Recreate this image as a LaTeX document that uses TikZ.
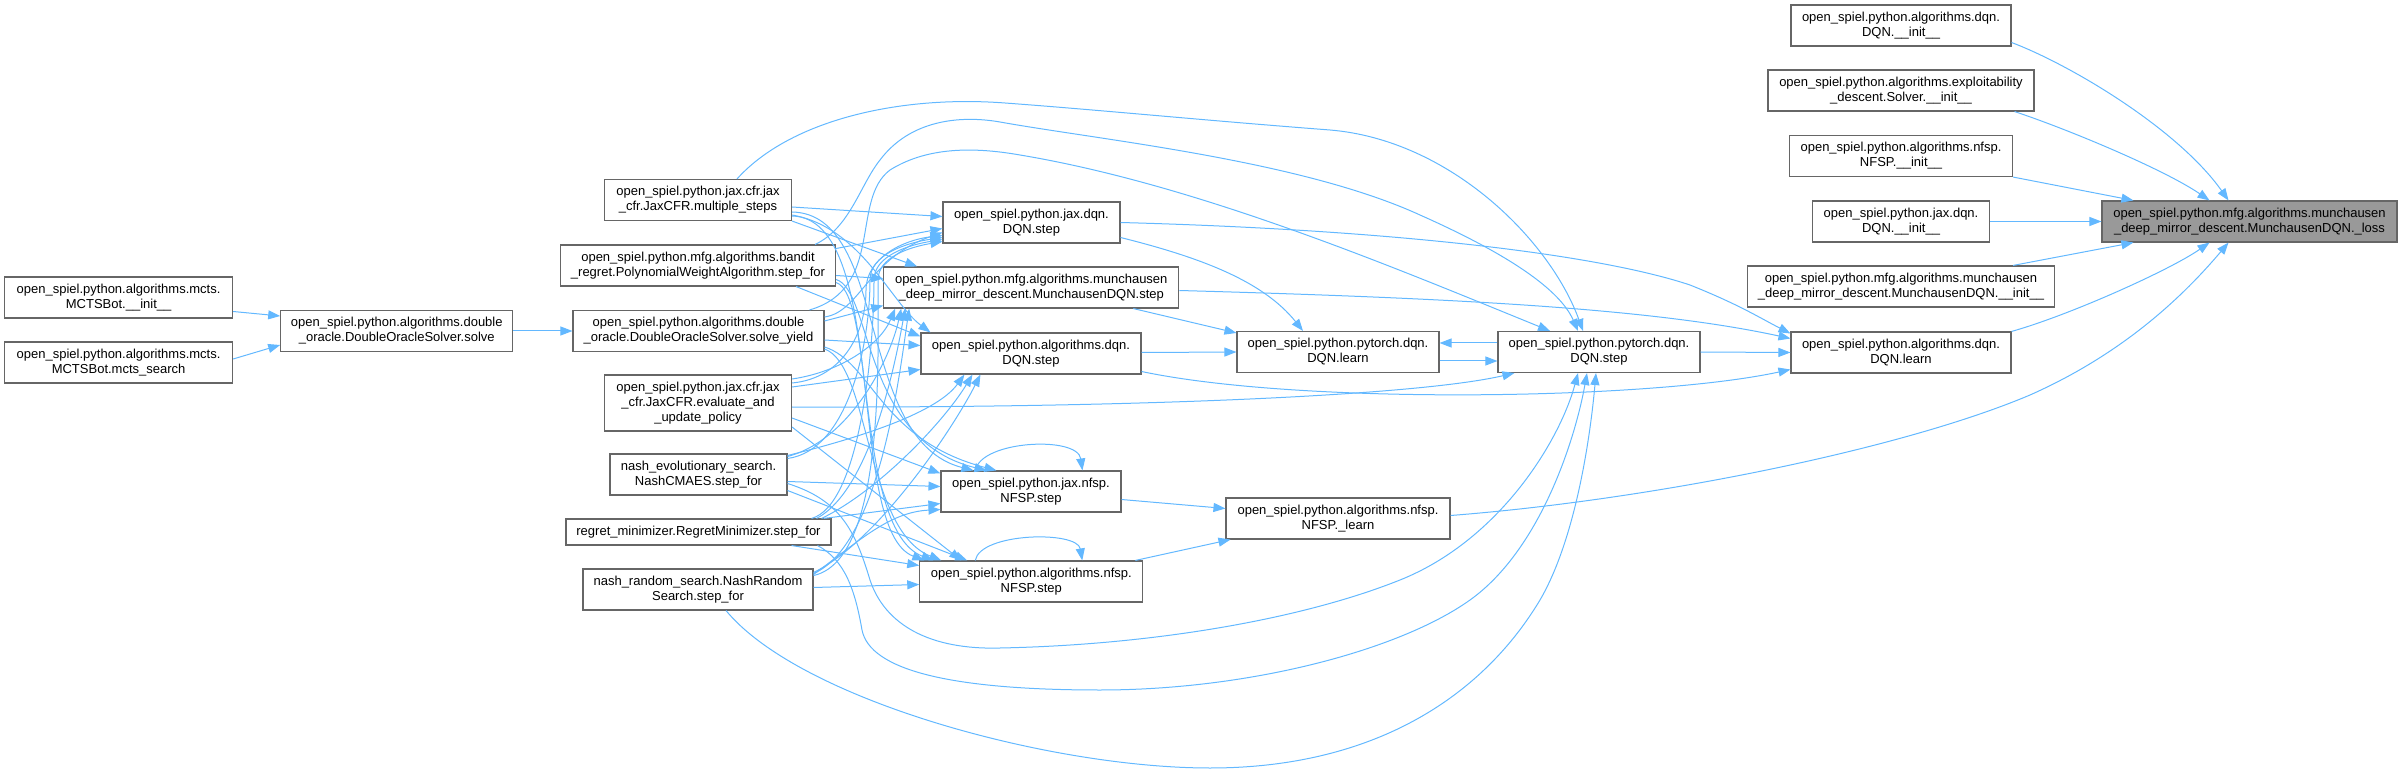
\documentclass[tikz,border=0pt]{standalone}
\usepackage{fontspec}
\setmainfont{Liberation Sans}
\usetikzlibrary{arrows.meta,calc}
\definecolor{edgeblue}{HTML}{63B8FF}
\definecolor{boxgray}{HTML}{666666}
\definecolor{lossfill}{HTML}{999999}
\begin{document}
\begin{tikzpicture}[x=1pt,y=-1pt,
  box/.style={draw=boxgray, line width=1.1pt, fill=white, inner sep=1pt, align=center,
    font=\fontsize{13}{15}\selectfont, minimum height=41pt},
  lossbox/.style={box, fill=lossfill},
  e/.style={draw=edgeblue, line width=1pt, -{Triangle[length=12pt,width=9pt]}}]
\useasboundingbox (0,0) rectangle (2402,775);

% ---- nodes ----
\node[box, minimum width=220pt] (dqninit) at (1901,25.5) {open\_spiel.python.algorithms.dqn.\\DQN.\_\_init\_\_};
\node[box, minimum width=266pt] (exploit) at (1901,90.5) {open\_spiel.python.algorithms.exploitability\\\_descent.Solver.\_\_init\_\_};
\node[box, minimum width=223pt] (nfspinit) at (1901,156) {open\_spiel.python.algorithms.nfsp.\\NFSP.\_\_init\_\_};
\node[box, minimum width=177pt] (jaxdqninit) at (1901,221.5) {open\_spiel.python.jax.dqn.\\DQN.\_\_init\_\_};
\node[box, minimum width=307pt] (munchinit) at (1901,286.5) {open\_spiel.python.mfg.algorithms.munchausen\\\_deep\_mirror\_descent.MunchausenDQN.\_\_init\_\_};
\node[box, minimum width=220pt] (adl) at (1901,352.5) {open\_spiel.python.algorithms.dqn.\\DQN.learn};
\node[lossbox, minimum width=295pt] (loss) at (2249.5,221.5) {open\_spiel.python.mfg.algorithms.munchausen\\\_deep\_mirror\_descent.MunchausenDQN.\_loss};

\node[box, minimum width=202pt] (ptl) at (1338,352) {open\_spiel.python.pytorch.dqn.\\DQN.learn};
\node[box, minimum width=202pt] (pts) at (1599,352) {open\_spiel.python.pytorch.dqn.\\DQN.step};
\node[box, minimum width=224pt] (nfl) at (1338,518.5) {open\_spiel.python.algorithms.nfsp.\\NFSP.\_learn};

\node[box, minimum width=177pt] (jd) at (1031.5,222.5) {open\_spiel.python.jax.dqn.\\DQN.step};
\node[box, minimum width=295pt] (mu) at (1031.25,287.5) {open\_spiel.python.mfg.algorithms.munchausen\\\_deep\_mirror\_descent.MunchausenDQN.step};
\node[box, minimum width=220pt] (ad) at (1031,353.5) {open\_spiel.python.algorithms.dqn.\\DQN.step};
\node[box, minimum width=180pt] (jn) at (1031,491.5) {open\_spiel.python.jax.nfsp.\\NFSP.step};
\node[box, minimum width=223pt] (an) at (1031.3,581.5) {open\_spiel.python.algorithms.nfsp.\\NFSP.step};

\node[box, minimum width=187pt] (ms) at (698,200) {open\_spiel.python.jax.cfr.jax\\\_cfr.JaxCFR.multiple\_steps};
\node[box, minimum width=275pt] (bd) at (698,265.5) {open\_spiel.python.mfg.algorithms.bandit\\\_regret.PolynomialWeightAlgorithm.step\_for};
\node[box, minimum width=251pt] (sy) at (698.5,331) {open\_spiel.python.algorithms.double\\\_oracle.DoubleOracleSolver.solve\_yield};
\node[box, minimum width=187pt, minimum height=56pt] (ev) at (698,403) {open\_spiel.python.jax.cfr.jax\\\_cfr.JaxCFR.evaluate\_and\\\_update\_policy};
\node[box, minimum width=177pt] (ne) at (698.5,474.5) {nash\_evolutionary\_search.\\NashCMAES.step\_for};
\node[box, minimum width=265pt, minimum height=26pt] (rg) at (698.5,532) {regret\_minimizer.RegretMinimizer.step\_for};
\node[box, minimum width=230pt] (nr) at (698,589.5) {nash\_random\_search.NashRandom\\Search.step\_for};

\node[box, minimum width=232pt] (dos) at (396.75,331) {open\_spiel.python.algorithms.double\\\_oracle.DoubleOracleSolver.solve};
\node[box, minimum width=228pt] (mi) at (118.6,297.5) {open\_spiel.python.algorithms.mcts.\\MCTSBot.\_\_init\_\_};
\node[box, minimum width=228pt] (msr) at (118.6,362.5) {open\_spiel.python.algorithms.mcts.\\MCTSBot.mcts\_search};

% ---- left part ----
\draw[e] ($(mi.east)+(0,14)$) -- ($(dos.west)+(0,-15)$);
\draw[e] ($(msr.east)+(0,-3.5)$) -- ($(dos.west)+(0,14)$);
\draw[e] (dos.east) -- (sy.west);

% ---- into jax dqn step ----
\draw[e] ($(ms.east)+(0,7)$) -- ($(jd.west)+(0,-6)$);
\draw[e] ($(bd.east)+(0,-17)$) -- ($(jd.west)+(0,6)$);
\draw[e] ($(sy.east)+(0,-14)$) .. controls (860,312) and (868,258) .. ($(jd.west)+(0,10)$);
\draw[e] ($(ev.east)+(0,-20)$) .. controls (845,378) and (866,330) .. (866,290) .. controls (866,258) and (903,240) .. ($(jd.west)+(0,13)$);
\draw[e] ($(ne.east)+(0,-16)$) .. controls (850,450) and (870,340) .. (870,280) .. controls (870,255) and (905,243) .. ($(jd.west)+(0,15)$);
\draw[e] ($(rg.north east)+(-20,0)$) .. controls (860,505) and (874,350) .. (874,280) .. controls (874,256) and (908,245) .. ($(jd.west)+(0,17)$);
\draw[e] ($(nr.east)+(0,-14)$) .. controls (885,560) and (878,360) .. (878,280) .. controls (878,257) and (910,247) .. ($(jd.west)+(0,19)$);

% ---- into munchausen step ----
\draw[e] (ms.south east) -- ($(mu.north west)+(34,0)$);
\draw[e] ($(bd.east)+(0,10)$) -- ($(mu.west)+(0,-9)$);
\draw[e] ($(sy.east)+(0,-10)$) -- ($(mu.south west)+(0,-3)$);
\draw[e] ($(ev.east)+(0,-24)$) .. controls (840,372) and (880,345) .. ($(mu.south west)+(12,0)$);
\draw[e] ($(ne.east)+(0,-18)$) .. controls (850,440) and (890,360) .. ($(mu.south west)+(18,0)$);
\draw[e] ($(rg.north east)+(-15,0)$) .. controls (870,490) and (895,365) .. ($(mu.south west)+(22,0)$);
\draw[e] ($(nr.east)+(0,-16)$) .. controls (880,545) and (900,370) .. ($(mu.south west)+(26,0)$);

% ---- into algorithms dqn step ----
\draw[e] ($(ms.east)+(0,15)$) .. controls (861,227) and (891,303) .. ($(ad.north west)+(10,0)$);
\draw[e] ($(bd.south east)+(-40,0)$) -- ($(ad.north west)+(0,4)$);
\draw[e] ($(sy.east)+(0,9)$) -- ($(ad.west)+(0,-8)$);
\draw[e] ($(ev.east)+(0,-16)$) -- ($(ad.west)+(0,16)$);
\draw[e] ($(ne.east)+(0,-19)$) .. controls (850,440) and (935,415) .. ($(ad.south west)+(44,0)$);
\draw[e] ($(rg.north east)+(-10,0)$) .. controls (880,490) and (945,420) .. ($(ad.south west)+(52,0)$);
\draw[e] ($(nr.east)+(0,-17)$) .. controls (880,540) and (955,425) .. ($(ad.south west)+(60,0)$);

% ---- into jax nfsp step ----
\draw[e] ($(ms.east)+(0,12)$) .. controls (890,214) and (855,440) .. ($(jn.north west)+(33,0)$);
\draw[e] ($(bd.east)+(0,14)$) .. controls (872,290) and (862,440) .. ($(jn.north west)+(46,0)$);
\draw[e] ($(sy.east)+(0,16)$) .. controls (872,362) and (880,440) .. ($(jn.north west)+(56,0)$);
\draw[e] ($(ev.east)+(0,15)$) -- ($(jn.north west)+(0,3)$);
\draw[e] ($(ne.east)+(0,7)$) -- ($(jn.west)+(0,-5)$);
\draw[e] ($(rg.north east)+(-8,0)$) -- ($(jn.west)+(0,12)$);
\draw[e] ($(nr.east)+(0,-15)$) .. controls (860,540) and (890,512) .. ($(jn.south west)+(0,-3)$);
\draw[e] ($(jn.north west)+(35,0)$) .. controls +(5,-30) and +(-5,-35) .. ($(jn.north west)+(142,0)$);

% ---- into algorithms nfsp step ----
\draw[e] ($(ms.east)+(0,16)$) .. controls (890,218) and (845,530) .. ($(an.north west)+(5,0)$);
\draw[e] ($(bd.east)+(0,17)$) .. controls (875,295) and (855,530) .. ($(an.north west)+(14,0)$);
\draw[e] ($(sy.east)+(0,18)$) .. controls (870,365) and (865,530) .. ($(an.north west)+(22,0)$);
\draw[e] ($(ev.east)+(0,24)$) -- ($(an.north west)+(42,0)$);
\draw[e] ($(ne.east)+(0,16)$) -- ($(an.north west)+(48,0)$);
\draw[e] ($(rg.south east)+(-40,0)$) -- ($(an.west)+(0,-16)$);
\draw[e] ($(nr.east)+(0,-2)$) -- ($(an.west)+(0,3)$);
\draw[e] ($(an.north west)+(56,0)$) .. controls +(5,-28) and +(-5,-30) .. ($(an.north west)+(163,0)$);

% ---- into pytorch dqn step ----
\draw[e] ($(ms.north)+(39,0)$) .. controls (790,120) and (900,95) .. (1005,103)
   .. controls (1100,110) and (1200,120) .. (1330,130)
   .. controls (1450,140) and (1550,240) .. ($(pts.north)+(-16,0)$);
\draw[e] ($(bd.north east)+(-21,0)$) .. controls (850,228) and (860,185) .. (880,160)
   .. controls (910,120) and (960,115) .. (1000,122)
   .. controls (1100,140) and (1300,160) .. (1420,215)
   .. controls (1510,255) and (1560,290) .. ($(pts.north)+(-21,0)$);
\draw[e] ($(sy.north east)+(-15,0)$) .. controls (885,288) and (850,200) .. (890,170)
   .. controls (930,145) and (980,148) .. (1020,155)
   .. controls (1200,185) and (1400,270) .. ($(pts.north)+(-49,0)$);
\draw[e] ($(ev.east)+(0,4)$) .. controls (1150,408) and (1420,395) .. ($(pts.south west)+(17,0)$);
\draw[e] ($(ne.east)+(0,9)$) .. controls (840,500) and (855,530) .. (870,580)
   .. controls (885,625) and (930,650) .. (1000,648)
   .. controls (1150,645) and (1300,620) .. (1400,580)
   .. controls (1500,540) and (1560,440) .. ($(pts.south)+(-21,0)$);
\draw[e] ($(rg.south east)+(-14,0)$) .. controls (845,560) and (855,590) .. (862,630)
   .. controls (870,670) and (950,690) .. (1100,690)
   .. controls (1250,690) and (1400,650) .. (1470,600)
   .. controls (1540,550) and (1575,440) .. ($(pts.south)+(-12,0)$);
\draw[e] ($(nr.south)+(28,0)$) .. controls (800,700) and (1050,768) .. (1210,768)
   .. controls (1370,768) and (1480,700) .. (1540,600)
   .. controls (1575,540) and (1590,440) .. ($(pts.south)+(-3,0)$);

% ---- pytorch learn / step ----
\draw[e] ($(ptl.east)+(0,9)$) -- ($(pts.west)+(0,9)$);
\draw[e] ($(pts.west)+(0,-9)$) -- ($(ptl.east)+(0,-9)$);
\draw[e] ($(mu.south east)+(-46,0)$) -- ($(ptl.north west)+(0,2)$);
\draw[e] ($(jd.east)+(0,15)$) .. controls +(80,20) and +(-40,-50) .. ($(ptl.north)+(-35,0)$);
\draw[e] ($(ad.east)+(0,-1)$) -- (ptl.west);

% ---- into algorithms dqn learn ----
\draw[e] (jd.east) .. controls (1400,230) and (1600,255) .. (1690,285)
   .. controls (1740,305) and (1760,318) .. ($(adl.west)+(0,-19)$);
\draw[e] ($(mu.east)+(0,3)$) .. controls (1450,298) and (1650,308) .. ($(adl.west)+(0,-14)$);
\draw[e] (pts.east) -- (adl.west);
\draw[e] ($(ad.east)+(0,18)$) .. controls (1300,405) and (1650,400) .. ($(adl.west)+(0,17)$);

% ---- nfsp learn ----
\draw[e] ($(jn.east)+(0,8)$) -- ($(nfl.west)+(0,-10)$);
\draw[e] ($(an.north east)+(-8,0)$) -- ($(nfl.south west)+(5,0)$);

% ---- into loss ----
\draw[e] ($(dqninit.east)+(0,17)$) .. controls (2071,65) and (2178,129) .. ($(loss.north)+(-21,0)$);
\draw[e] ($(exploit.south east)+(-20,0)$) .. controls (2070,130) and (2165,170) .. ($(loss.north)+(-40,0)$);
\draw[e] (nfspinit.south east) -- ($(loss.north west)+(32,0)$);
\draw[e] (jaxdqninit.east) -- (loss.west);
\draw[e] ($(munchinit.north east)+(-42,0)$) -- ($(loss.south west)+(32,0)$);
\draw[e] (adl.north east) .. controls (2070,315) and (2170,270) .. ($(loss.south)+(-40,0)$);
\draw[e] ($(nfl.east)+(0,-3)$) .. controls (1650,500) and (1900,450) .. (2030,395)
   .. controls (2120,355) and (2180,300) .. ($(loss.south)+(-21,0)$);
\end{tikzpicture}
\end{document}
